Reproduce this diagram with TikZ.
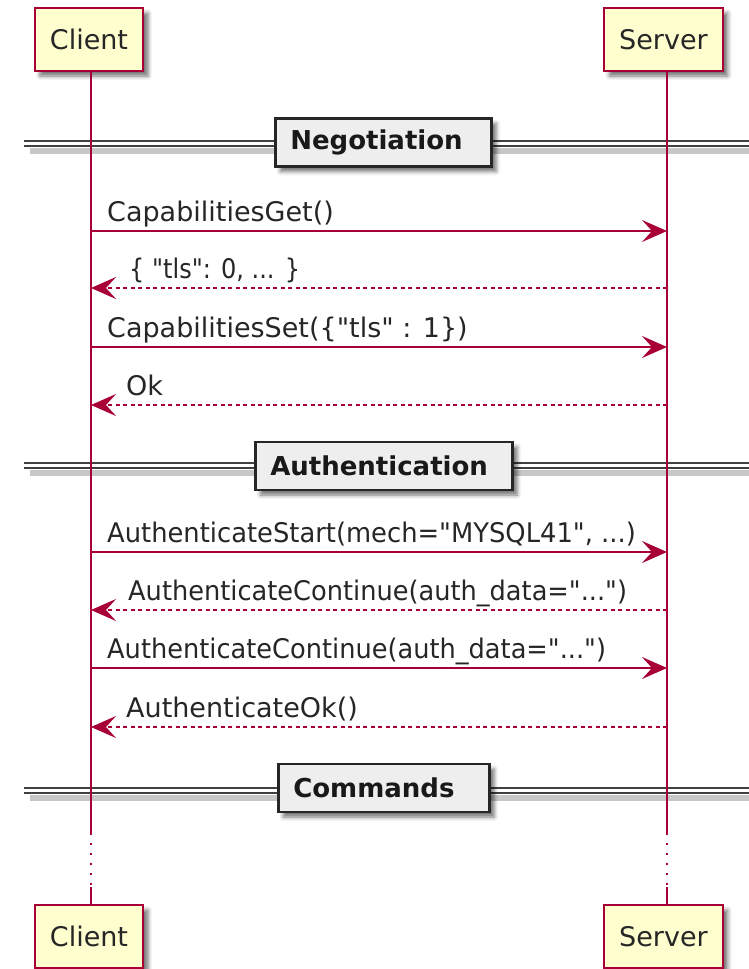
\documentclass[tikz,border=0pt]{standalone}
\usepackage{fontspec}
\usepackage{graphicx}
\setmainfont{DejaVu Sans}[Ligatures=TeXOff]
\usetikzlibrary{arrows.meta,shadows.blur}
\definecolor{puRed}{HTML}{A80036}
\definecolor{puFill}{HTML}{FEFECE}
\definecolor{sepFill}{HTML}{EEEEEE}
\definecolor{txt}{HTML}{262626}
\newcommand{\dq}{\char34\relax}
\begin{document}
\begin{tikzpicture}[x=1pt,y=-1pt,
  part/.style={draw=puRed, line width=2pt, fill=puFill, minimum height=63pt, inner xsep=15pt,
    font=\fontsize{27}{32}\selectfont, text=txt,
    blur shadow={shadow xshift=5pt, shadow yshift=-5pt, shadow blur radius=4pt, shadow opacity=55}},
  sepbox/.style={draw=black!85, line width=2.5pt, fill=sepFill, minimum height=48pt, inner xsep=15pt,
    align=left, anchor=west, font=\fontsize{26}{30}\selectfont\bfseries, text=black!90,
    blur shadow={shadow xshift=5pt, shadow yshift=-5pt, shadow blur radius=4pt, shadow opacity=55}},
  sepline/.style={draw=black!75, line width=2pt},
  sepshadow/.style={draw=black, line width=6pt, opacity=0.22},
  msg/.style={draw=puRed, line width=2pt, -{Stealth[length=25pt,width=22pt,inset=10pt]}},
  ret/.style={msg, dash pattern=on 4pt off 3.5pt},
  lbl/.style={font=\fontsize{27}{32}\selectfont, text=txt, anchor=base west, inner sep=0pt},
  life/.style={draw=puRed, line width=1.5pt},
  lifedots/.style={draw=puRed, line width=1.5pt, dash pattern=on 2pt off 8pt}
]
\useasboundingbox (0,0) rectangle (749,969);

% separator double lines (behind everything)
\foreach \c in {143,465.5,790}{
  \draw[sepshadow] (30,\c+7.5) -- (749,\c+7.5);
  \draw[sepline] (24,\c-2.5) -- (749,\c-2.5);
  \draw[sepline] (24,\c+2.5) -- (749,\c+2.5);
}

% participants
\node[part] (ct) at (89,39.5) {Client};
\node[part] (st) at (663.5,39.5) {Server};
\node[part] (cb) at (89,936.5) {Client};
\node[part] (sb) at (663.5,936.5) {Server};

% lifeline helper coordinates
\coordinate (cl1) at (91,833);
\coordinate (cl2) at (91,887);
\coordinate (sl1) at (667,833);
\coordinate (sl2) at (667,887);

\draw[life] (ct.south -| cl1) -- (cl1);
\draw[lifedots] (cl1) -- (cl2);
\draw[life] (cl2) -- (cb.north -| cl2);
\draw[life] (st.south -| sl1) -- (sl1);
\draw[lifedots] (sl1) -- (sl2);
\draw[life] (sl2) -- (sb.north -| sl2);

% separators
\node[sepbox, text width=186pt] (neg) at (274,142.5) {Negotiation};
\node[sepbox, text width=227pt] (auth) at (254,466) {Authentication};
\node[sepbox, text width=181pt] (cmd) at (277,788) {Commands};

% message end points on lifelines
\foreach \i/\y in {1/231,2/288,3/347,4/405,5/552,6/610,7/668,8/727}{
  \coordinate (a\i) at (91,\y);
  \coordinate (b\i) at (667,\y);
}

% messages
\draw[msg] (a1) -- (b1);
\draw[ret] (b2) -- (a2);
\draw[msg] (a3) -- (b3);
\draw[ret] (b4) -- (a4);
\draw[msg] (a5) -- (b5);
\draw[ret] (b6) -- (a6);
\draw[msg] (a7) -- (b7);
\draw[ret] (b8) -- (a8);

% labels
\node[lbl] (l1) at (107,221) {CapabilitiesGet()};
\node[lbl] (l2) at (129,278) {\scalebox{0.89}[1]{\{ \dq tls\dq: 0, ... \}}};
\node[lbl] (l3) at (107,337) {CapabilitiesSet(\{\dq tls\dq{} : 1\})};
\node[lbl] (l4) at (126,395) {Ok};
\node[lbl] (l5) at (107,542) {\scalebox{0.955}[1]{AuthenticateStart(mech=\dq MYSQL41\dq, ...)}};
\node[lbl] (l6) at (128,600) {\scalebox{0.95}[1]{AuthenticateContinue(auth\_data=\dq...\dq)}};
\node[lbl] (l7) at (107,658) {\scalebox{0.95}[1]{AuthenticateContinue(auth\_data=\dq...\dq)}};
\node[lbl] (l8) at (126,717) {AuthenticateOk()};
\end{tikzpicture}
\end{document}
